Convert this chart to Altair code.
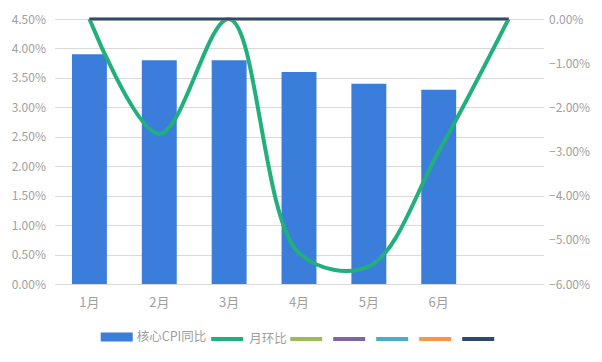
import altair as alt
import pandas as pd

# ---- data ----
months = ["1月", "2月", "3月", "4月", "5月", "6月", " "]
core_cpi = [3.9, 3.8, 3.8, 3.6, 3.4, 3.3, None]          # 核心CPI同比 (%)
mom = [0.0, -2.6, 0.0, -5.3, -5.6, -3.0, 0.0]             # 月环比 (%)
blank_series = ["s3", "s4", "s5", "s6", "s7"]             # unnamed series
blank_values = [0.0, 0.0, 0.0, 0.0, 0.0, 0.0, 0.0]

bar_name = "核心CPI同比"
line_names = ["月环比"] + blank_series
bar_color = "#3a7dda"
line_colors = ["#21b07c", "#9bbb59", "#8064a2", "#4bacc6", "#f79646", "#2c4a6e"]

left_ticks = [0, 0.5, 1, 1.5, 2, 2.5, 3, 3.5, 4, 4.5]
right_ticks = [-6, -5, -4, -3, -2, -1, 0]

FONT = "Noto Sans CJK SC"
GRAY = "#a0a0a0"
GRID = "#d9d9d9"

bar_df = pd.DataFrame({"month": months, "value": core_cpi, "series": bar_name}).dropna()

rows = []
for m, v in zip(months, mom):
    rows.append({"month": m, "value": v, "series": "月环比", "k": 0})
for i, s in enumerate(blank_series):
    for m, v in zip(months, blank_values):
        rows.append({"month": m, "value": v, "series": s, "k": i + 1})
line_df = pd.DataFrame(rows)

x_enc = alt.X(
    "month:N",
    sort=months,
    scale=alt.Scale(domain=months, paddingInner=0.5, paddingOuter=0.25),
    axis=alt.Axis(
        title=None, labelAngle=0, ticks=False, domainColor=GRID, labelColor=GRAY,
        labelFontSize=13, labelPadding=12, grid=False,
    ),
)

bars = alt.Chart(bar_df).mark_bar(color=bar_color).encode(
    x=x_enc,
    y=alt.Y(
        "value:Q",
        scale=alt.Scale(domain=[0, 4.5], nice=False),
        axis=alt.Axis(
            title=None, values=left_ticks, labelExpr="format(datum.value, '.2f') + '%'",
            domain=False, ticks=False, gridColor=GRID, labelColor=GRAY, labelFontSize=12,
            labelPadding=9,
        ),
    ),
    color=alt.Color(
        "series:N",
        scale=alt.Scale(domain=[bar_name], range=[bar_color]),
        legend=alt.Legend(
            title=None, orient="none", legendX=46.2, legendY=302, direction="horizontal",
            symbolType="M-1,-0.28H1V0.28H-1Z", symbolSize=1024, symbolStrokeWidth=0,
            labelFontSize=12.5, labelColor=GRAY, labelOffset=4, padding=0,
        ),
    ),
)

lines = alt.Chart(line_df).mark_line(interpolate="catmull-rom").encode(
    x=x_enc,
    y=alt.Y(
        "value:Q",
        scale=alt.Scale(domain=[-6, 0], nice=False),
        axis=alt.Axis(
            title=None, orient="right", values=right_ticks,
            labelExpr="format(datum.value, '.2f') + '%'",
            domain=False, ticks=False, grid=False, labelColor=GRAY, labelFontSize=12,
            labelPadding=5,
        ),
    ),
    stroke=alt.Stroke(
        "series:N",
        scale=alt.Scale(domain=line_names, range=line_colors),
        legend=alt.Legend(
            title=None, orient="none", legendX=154.7, legendY=302, direction="horizontal",
            symbolType="M-1,0H1", symbolSize=1024, symbolStrokeWidth=4,
            labelExpr="datum.label == '月环比' ? datum.label : ''",
            labelFontSize=12.5, labelColor=GRAY, labelOffset=4, columnPadding=-5, padding=0,
        ),
    ),
    strokeWidth=alt.condition(alt.datum.series == "月环比", alt.value(4), alt.value(2.5)),
    order=alt.Order("k:Q"),
    detail="series:N",
)

chart = (
    alt.layer(bars, lines)
    .resolve_scale(y="independent", color="independent", stroke="independent")
    .properties(
        width=489, height=265,
        autosize=alt.AutoSizeParams(type="none"),
        padding={"left": 46.5, "top": 11, "right": 50.5, "bottom": 70},
    )
    .configure(font=FONT)
    .configure_view(stroke=None)
    .configure_axis(labelFont=FONT)
    .configure_legend(labelFont=FONT)
)

chart.save("out.html", embed_options={"renderer": "svg", "actions": False})
